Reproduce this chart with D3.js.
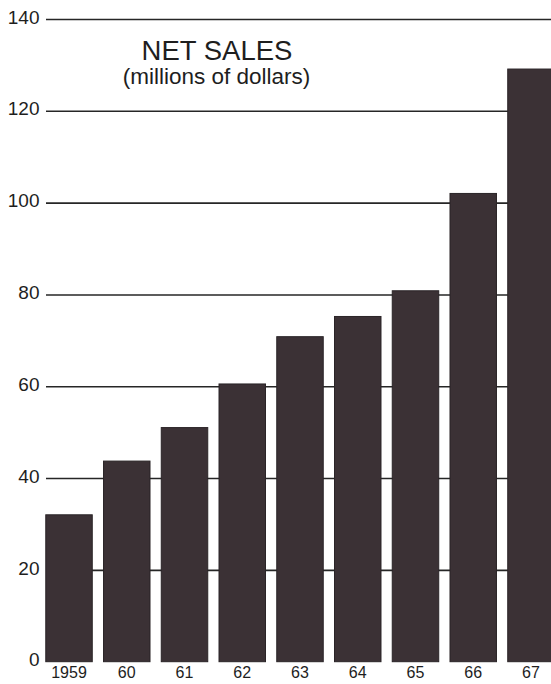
<!DOCTYPE html>
<html>
<head>
<meta charset="utf-8">
<script src="https://cdn.jsdelivr.net/npm/d3@7"></script>
<style>
  html, body { margin: 0; padding: 0; background: #fff; overflow: hidden; }
  svg { display: block; font-family: "Liberation Sans", Arial, Helvetica, sans-serif; }
</style>
</head>
<body>
<div id="chart"></div>
<script>
// net sales by year, millions of dollars
const years = ["1959", "60", "61", "62", "63", "64", "65", "66", "67"];
const sales = [32, 43.7, 51, 60.5, 70.8, 75.2, 80.8, 102, 129.1];
const yTicks = [0, 20, 40, 60, 80, 100, 120, 140];

const width = 551;
const height = 684;

const svg = d3.select("#chart")
    .append("svg")
    .attr("width", width)
    .attr("height", height);

// scales
const xScale = d3.scaleBand()
    .domain(years)
    .range([40, 560])
    .paddingInner(0.195)
    .paddingOuter(0.1);

const yScale = d3.scaleLinear()
    .domain([0, 140])
    .range([661.7, 19]);

// gridlines behind the bars
const yAxis = svg.append("g")
    .attr("transform", "translate(46,0)")
    .call(d3.axisRight(yScale)
        .tickValues(yTicks.slice(1))
        .tickSize(width - 46)
        .tickFormat(""));
yAxis.select(".domain").remove();
yAxis.selectAll("line")
    .attr("stroke", "#262626")
    .attr("stroke-width", 1.6);

// y tick labels
svg.append("g")
    .selectAll("text")
    .data(yTicks)
    .enter()
    .append("text")
    .attr("x", 39.5)
    .attr("y", d => yScale(d) - 2)
    .attr("dy", "0.35em")
    .attr("text-anchor", "end")
    .attr("font-size", 19)
    .attr("fill", "#1e1e1e")
    .text(d => d);

// bars
svg.selectAll(".bar")
    .data(years.map((y, i) => ({ year: y, value: sales[i] })))
    .enter()
    .append("rect")
    .attr("class", "bar")
    .attr("x", d => xScale(d.year))
    .attr("y", d => yScale(d.value))
    .attr("width", xScale.bandwidth())
    .attr("height", d => yScale(0) - yScale(d.value))
    .attr("fill", "#3b3135")
    .attr("stroke", "#2a2427")
    .attr("stroke-width", 1);

// x labels
const xAxis = svg.append("g")
    .attr("transform", "translate(0,667)")
    .call(d3.axisBottom(xScale).tickSize(0).tickPadding(0));
xAxis.select(".domain").remove();
xAxis.selectAll("text")
    .attr("font-family", null)
    .attr("font-size", 16)
    .attr("fill", "#1e1e1e");

// title
svg.append("text")
    .attr("x", 217)
    .attr("y", 60)
    .attr("text-anchor", "middle")
    .attr("font-size", 27.5)
    .attr("fill", "#1e1e1e")
    .text("NET SALES");

svg.append("text")
    .attr("x", 216.5)
    .attr("y", 84)
    .attr("text-anchor", "middle")
    .attr("font-size", 22.5)
    .attr("fill", "#1e1e1e")
    .text("(millions of dollars)");
</script>
</body>
</html>
